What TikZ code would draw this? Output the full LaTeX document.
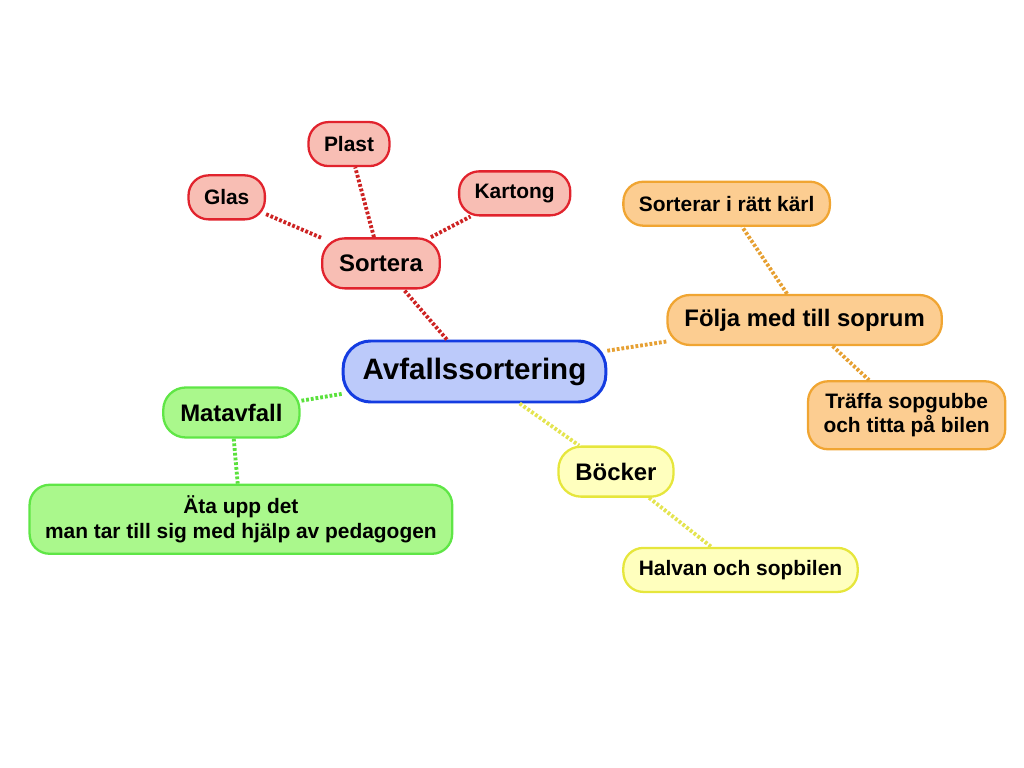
\documentclass[tikz,border=0pt]{standalone}
\usepackage{fontspec}
\setmainfont{Liberation Sans}
\usetikzlibrary{positioning}
\definecolor{mapblue}{RGB}{20,60,225}
\definecolor{mapbluefill}{RGB}{188,202,250}
\definecolor{mapred}{RGB}{225,35,45}
\definecolor{mapredfill}{RGB}{248,190,180}
\definecolor{mapredlink}{RGB}{205,35,35}
\definecolor{maporange}{RGB}{240,165,50}
\definecolor{maporangefill}{RGB}{252,205,145}
\definecolor{maporangelink}{RGB}{230,160,50}
\definecolor{mapgreen}{RGB}{95,230,70}
\definecolor{mapgreenfill}{RGB}{170,248,140}
\definecolor{mapgreenlink}{RGB}{90,225,60}
\definecolor{mapyellow}{RGB}{230,230,60}
\definecolor{mapyellowfill}{RGB}{255,255,190}
\definecolor{mapyellowlink}{RGB}{228,228,80}

\begin{document}
\begin{tikzpicture}[
      node distance=1cm,
      nd/.style={rounded corners=0.4cm,line width=1.3pt,align=center,font=\bfseries\fontsize{11.9}{13.8}\selectfont,minimum height=0.88cm,inner xsep=0.31cm,inner ysep=0.1cm},
      ndsub/.style={nd,rounded corners=0.45cm,font=\bfseries\fontsize{13.6}{16}\selectfont,minimum height=1cm,inner xsep=0.34cm},
      ndmain/.style={nd,rounded corners=0.55cm,line width=1.7pt,font=\bfseries\fontsize{16.8}{20}\selectfont,minimum height=1.22cm,inner xsep=0.39cm},
      brred/.style={draw=mapred,fill=mapredfill},
      brorange/.style={draw=maporange,fill=maporangefill},
      brgreen/.style={draw=mapgreen,fill=mapgreenfill},
      bryellow/.style={draw=mapyellow,fill=mapyellowfill},
      link/.style={line width=2.2pt,dash pattern=on 1.6pt off 1.1pt}
    ]
    \useasboundingbox (-9.49,-7.93) rectangle (10.99,7.43);
    \node[ndmain,draw=mapblue,fill=mapbluefill] (root) {Avfallssortering};

    % sortera
    \node[ndsub,brred,above=1.0cm of root,xshift=-1.87cm] (sortera) {Sortera};
    \node[nd,brred,above=1.4cm of sortera,xshift=-0.64cm] (plast) {Plast};
    \node[nd,brred,left=1.1cm of sortera,yshift=1.32cm] (glas) {Glas};
    \node[nd,brred,right=0.34cm of sortera,yshift=1.4cm] (kartong) {Kartong};

    % soprum
    \node[ndsub,brorange,right=1.18cm of root,yshift=1.03cm] (folja) {Följa med till soprum};
    \node[nd,brorange,above=1.34cm of folja,xshift=-1.56cm] (karl) {Sorterar i rätt kärl};
    \node[nd,brorange,below=0.68cm of folja,xshift=2.04cm,minimum height=1.36cm] (traffa) {Träffa sopgubbe\\och titta på bilen};

    % matavfall
    \node[ndsub,brgreen,left=0.82cm of root,yshift=-0.82cm] (mat) {Matavfall};
    \node[nd,brgreen,below=0.9cm of mat,xshift=0.19cm,minimum height=1.38cm] (ata) {Äta upp det\\man tar till sig med hjälp av pedagogen};

    % böcker
    \node[ndsub,bryellow,below=0.84cm of root,xshift=2.83cm] (bocker) {Böcker};
    \node[nd,bryellow,below=0.98cm of bocker,xshift=2.49cm] (halvan) {Halvan och sopbilen};

    \draw[link,mapredlink] (root) -- (sortera);
    \foreach \n in {glas,plast,kartong}
      \draw[link,mapredlink] (sortera) -- (\n);
    \draw[link,maporangelink] (root) -- (folja);
    \draw[link,maporangelink] (folja) -- (karl);
    \draw[link,maporangelink] (folja) -- (traffa);
    \draw[link,mapgreenlink] (root) -- (mat);
    \draw[link,mapgreenlink] (mat) -- (ata);
    \draw[link,mapyellowlink] (root) -- (bocker);
    \draw[link,mapyellowlink] (bocker) -- (halvan);
  \end{tikzpicture}
\end{document}
